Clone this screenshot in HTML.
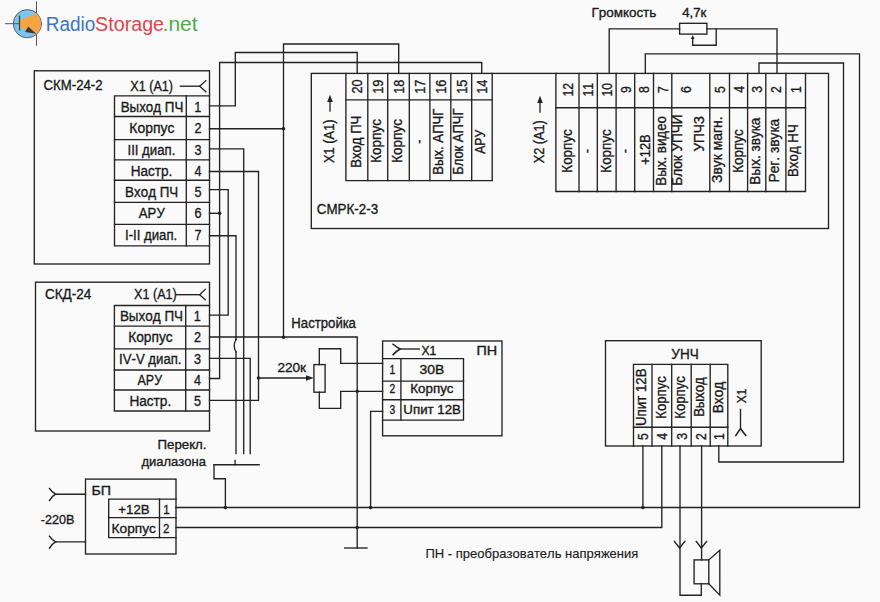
<!DOCTYPE html>
<html><head><meta charset="utf-8"><style>
html,body{margin:0;padding:0;background:#fafafa;}
svg{display:block;}
text{font-family:"Liberation Sans",sans-serif;fill:#1a1a1a;stroke:#1a1a1a;stroke-width:0.35px;font-kerning:none;}
</style></head><body>
<svg width="880" height="602" viewBox="0 0 880 602" stroke-linecap="square">
<rect x="0" y="0" width="880" height="602" fill="#fafafa"/>
<g>
<line x1="36.5" y1="1.8" x2="36.5" y2="13.3" stroke="#555" stroke-width="1"/>
<line x1="36.5" y1="34" x2="36.5" y2="45.3" stroke="#555" stroke-width="1"/>
<circle cx="27.4" cy="23.7" r="14.1" fill="#7cc5ee" stroke="#5e5e5e" stroke-width="1"/>
<path d="M19.5,20 L36.5,13.4 A14.1,14.1 0 0 1 36.5,34 L19.5,27.5 Z" fill="#f6a443"/>
<line x1="5.4" y1="23.7" x2="19.5" y2="23.7" stroke="#555" stroke-width="1"/>
<line x1="19.5" y1="16.2" x2="19.5" y2="29.9" stroke="#444" stroke-width="1.3"/>
<path d="M28.2,26.6 L36.2,33.8 L25,32 Z" fill="#3a3a3a"/>
</g>
<text x="45.74" y="30.50" font-size="19.50" textLength="49.55" lengthAdjust="spacingAndGlyphs" style="fill:#3d76c1;stroke:none">Radio</text>
<text x="95.11" y="30.50" font-size="19.50" textLength="68.97" lengthAdjust="spacingAndGlyphs" style="fill:#e1434f;stroke:none">Storage</text>
<text x="162.58" y="30.50" font-size="19.50" textLength="35.07" lengthAdjust="spacingAndGlyphs" style="fill:#4cab48;stroke:none">.net</text>
<rect x="34.30" y="70.80" width="175.20" height="193.20" fill="none" stroke="#222222" stroke-width="1.35"/>
<text x="43.43" y="90.10" font-size="14.60" textLength="59.24" lengthAdjust="spacingAndGlyphs">СКМ-24-2</text>
<text x="130.22" y="90.50" font-size="14.60" textLength="42.87" lengthAdjust="spacingAndGlyphs">X1 (A1)</text>
<path d="M180.40,86.20 L199.70,86.20" fill="none" stroke="#222222" stroke-width="1.35"/>
<path d="M205.90,80.60 L199.70,86.20 L205.90,91.80" fill="none" stroke="#222222" stroke-width="1.3"/>
<path d="M209.50,95.80 L114.50,95.80 L114.50,245.90 L209.50,245.90" fill="none" stroke="#222222" stroke-width="1.35"/>
<path d="M114.50,116.50 L209.50,116.50" fill="none" stroke="#222222" stroke-width="1.35"/>
<path d="M114.50,139.60 L209.50,139.60" fill="none" stroke="#222222" stroke-width="1.35"/>
<path d="M114.50,159.90 L209.50,159.90" fill="none" stroke="#222222" stroke-width="1.35"/>
<path d="M114.50,180.20 L209.50,180.20" fill="none" stroke="#222222" stroke-width="1.35"/>
<path d="M114.50,202.40 L209.50,202.40" fill="none" stroke="#222222" stroke-width="1.35"/>
<path d="M114.50,224.30 L209.50,224.30" fill="none" stroke="#222222" stroke-width="1.35"/>
<path d="M186.30,95.80 L186.30,245.90" fill="none" stroke="#222222" stroke-width="1.35"/>
<text x="120.71" y="111.70" font-size="14.88" textLength="62.58" lengthAdjust="spacingAndGlyphs">Выход ПЧ</text>
<text x="194.31" y="111.70" font-size="14.88" textLength="7.03" lengthAdjust="spacingAndGlyphs">1</text>
<text x="129.36" y="132.90" font-size="14.88" textLength="45.11" lengthAdjust="spacingAndGlyphs">Корпус</text>
<text x="194.48" y="132.90" font-size="14.88" textLength="7.03" lengthAdjust="spacingAndGlyphs">2</text>
<text x="127.48" y="154.90" font-size="14.88" textLength="47.82" lengthAdjust="spacingAndGlyphs">III диап.</text>
<text x="194.52" y="154.90" font-size="14.88" textLength="7.03" lengthAdjust="spacingAndGlyphs">3</text>
<text x="130.69" y="175.50" font-size="14.88" textLength="41.55" lengthAdjust="spacingAndGlyphs">Настр.</text>
<text x="194.52" y="175.50" font-size="14.88" textLength="7.03" lengthAdjust="spacingAndGlyphs">4</text>
<text x="125.10" y="196.60" font-size="14.88" textLength="53.19" lengthAdjust="spacingAndGlyphs">Вход ПЧ</text>
<text x="194.50" y="196.60" font-size="14.88" textLength="7.03" lengthAdjust="spacingAndGlyphs">5</text>
<text x="138.87" y="218.00" font-size="14.88" textLength="25.86" lengthAdjust="spacingAndGlyphs">АРУ</text>
<text x="194.44" y="218.00" font-size="14.88" textLength="7.03" lengthAdjust="spacingAndGlyphs">6</text>
<text x="124.98" y="239.60" font-size="14.88" textLength="52.22" lengthAdjust="spacingAndGlyphs">I-II диап.</text>
<text x="194.48" y="239.60" font-size="14.88" textLength="7.03" lengthAdjust="spacingAndGlyphs">7</text>
<rect x="35.50" y="282.20" width="174.00" height="148.80" fill="none" stroke="#222222" stroke-width="1.35"/>
<text x="44.91" y="299.00" font-size="14.60" textLength="46.49" lengthAdjust="spacingAndGlyphs">СКД-24</text>
<text x="134.02" y="298.70" font-size="14.60" textLength="42.77" lengthAdjust="spacingAndGlyphs">X1 (A1)</text>
<path d="M176.50,294.70 L199.70,294.70" fill="none" stroke="#222222" stroke-width="1.35"/>
<path d="M205.30,289.30 L199.70,294.70 L205.30,299.90" fill="none" stroke="#222222" stroke-width="1.3"/>
<path d="M209.50,305.50 L114.40,305.50 L114.40,411.00 L209.50,411.00" fill="none" stroke="#222222" stroke-width="1.35"/>
<path d="M114.40,326.10 L209.50,326.10" fill="none" stroke="#222222" stroke-width="1.35"/>
<path d="M114.40,348.80 L209.50,348.80" fill="none" stroke="#222222" stroke-width="1.35"/>
<path d="M114.40,370.00 L209.50,370.00" fill="none" stroke="#222222" stroke-width="1.35"/>
<path d="M114.40,390.00 L209.50,390.00" fill="none" stroke="#222222" stroke-width="1.35"/>
<path d="M185.70,305.50 L185.70,411.00" fill="none" stroke="#222222" stroke-width="1.35"/>
<text x="119.89" y="321.10" font-size="14.88" textLength="63.21" lengthAdjust="spacingAndGlyphs">Выход ПЧ</text>
<text x="193.81" y="321.10" font-size="14.88" textLength="7.03" lengthAdjust="spacingAndGlyphs">1</text>
<text x="128.17" y="342.30" font-size="14.88" textLength="44.49" lengthAdjust="spacingAndGlyphs">Корпус</text>
<text x="193.98" y="342.30" font-size="14.88" textLength="7.03" lengthAdjust="spacingAndGlyphs">2</text>
<text x="119.08" y="363.60" font-size="14.88" textLength="62.42" lengthAdjust="spacingAndGlyphs">IV-V диап.</text>
<text x="194.02" y="363.60" font-size="14.88" textLength="7.03" lengthAdjust="spacingAndGlyphs">3</text>
<text x="137.58" y="384.50" font-size="14.88" textLength="24.46" lengthAdjust="spacingAndGlyphs">АРУ</text>
<text x="194.02" y="384.50" font-size="14.88" textLength="7.03" lengthAdjust="spacingAndGlyphs">4</text>
<text x="129.38" y="405.80" font-size="14.88" textLength="41.86" lengthAdjust="spacingAndGlyphs">Настр.</text>
<text x="194.00" y="405.80" font-size="14.88" textLength="7.03" lengthAdjust="spacingAndGlyphs">5</text>
<text x="157.53" y="448.50" font-size="13.02" textLength="48.89" lengthAdjust="spacingAndGlyphs">Перекл.</text>
<text x="141.47" y="465.50" font-size="13.02" textLength="64.43" lengthAdjust="spacingAndGlyphs">диалазона</text>
<rect x="85.50" y="479.10" width="90.50" height="74.90" fill="none" stroke="#222222" stroke-width="1.35"/>
<text x="91.53" y="494.50" font-size="13.49" textLength="19.60" lengthAdjust="spacingAndGlyphs">БП</text>
<path d="M176.00,499.10 L108.70,499.10 L108.70,537.60 L176.00,537.60" fill="none" stroke="#222222" stroke-width="1.35"/>
<path d="M108.70,517.60 L176.00,517.60" fill="none" stroke="#222222" stroke-width="1.35"/>
<path d="M159.50,499.10 L159.50,537.60" fill="none" stroke="#222222" stroke-width="1.35"/>
<text x="118.35" y="513.60" font-size="13.49" textLength="31.35" lengthAdjust="spacingAndGlyphs">+12В</text>
<text x="163.16" y="513.60" font-size="13.49" textLength="6.37" lengthAdjust="spacingAndGlyphs">1</text>
<text x="111.58" y="532.70" font-size="13.49" textLength="44.28" lengthAdjust="spacingAndGlyphs">Корпус</text>
<text x="163.11" y="532.70" font-size="13.49" textLength="6.37" lengthAdjust="spacingAndGlyphs">2</text>
<text x="40.74" y="523.70" font-size="13.49" textLength="33.62" lengthAdjust="spacingAndGlyphs">-220В</text>
<path d="M55.60,494.20 L85.50,494.20" fill="none" stroke="#222222" stroke-width="1.35"/>
<path d="M49.6,488.60 Q52.2,492.40 55.6,494.20 Q52.2,496.00 49.6,500.40" fill="none" stroke="#222222" stroke-width="1.5"/>
<path d="M55.60,541.90 L85.50,541.90" fill="none" stroke="#222222" stroke-width="1.35"/>
<path d="M49.6,536.30 Q52.2,540.10 55.6,541.90 Q52.2,543.70 49.6,548.10" fill="none" stroke="#222222" stroke-width="1.5"/>
<path d="M209.50,105.80 L235.30,105.80 L235.30,52.50 L357.20,52.50 L357.20,73.40" fill="none" stroke="#222222" stroke-width="1.35"/>
<path d="M283.50,337.40 L283.50,44.00 L398.70,44.00 L398.70,73.40" fill="none" stroke="#222222" stroke-width="1.35"/>
<path d="M209.50,128.70 L283.50,128.70" fill="none" stroke="#222222" stroke-width="1.35"/>
<circle cx="283.50" cy="128.70" r="1.8" fill="#222222"/>
<path d="M209.50,337.00 L357.20,337.00 L357.20,548.00" fill="none" stroke="#222222" stroke-width="1.35"/>
<circle cx="283.50" cy="337.20" r="1.8" fill="#222222"/>
<path d="M344.70,548.00 L367.00,548.00" fill="none" stroke="#222222" stroke-width="1.35"/>
<path d="M209.50,378.50 L219.60,378.50 L219.60,62.50 L481.70,62.50 L481.70,73.40" fill="none" stroke="#222222" stroke-width="1.35"/>
<path d="M209.50,213.30 L219.60,213.30" fill="none" stroke="#222222" stroke-width="1.35"/>
<circle cx="219.60" cy="213.30" r="1.8" fill="#222222"/>
<path d="M209.50,148.80 L243.70,148.80 L243.70,453.60" fill="none" stroke="#222222" stroke-width="1.35"/>
<path d="M209.50,171.50 L258.50,171.50 L258.50,400.30 L209.50,400.30" fill="none" stroke="#222222" stroke-width="1.35"/>
<circle cx="258.50" cy="378.00" r="1.8" fill="#222222"/>
<path d="M258.50,378.00 L310.00,378.00" fill="none" stroke="#222222" stroke-width="1.35"/>
<path d="M306,375.3 L313.8,378 L306,380.7 Z" fill="#222222"/>
<path d="M209.50,189.60 L228.20,189.60 L228.20,315.10 L209.50,315.10" fill="none" stroke="#222222" stroke-width="1.35"/>
<path d="M209.50,235.70 L236.00,235.70 L236.00,339.50" fill="none" stroke="#222222" stroke-width="1.35"/>
<path d="M236.00,352.00 L236.00,453.60" fill="none" stroke="#222222" stroke-width="1.35"/>
<path d="M236,339.5 Q232.5,345.7 236,352" fill="none" stroke="#222222" stroke-width="1.3"/>
<path d="M209.50,358.30 L250.20,358.30 L250.20,453.60" fill="none" stroke="#222222" stroke-width="1.35"/>
<path d="M214.00,464.70 L259.10,464.70" fill="none" stroke="#222222" stroke-width="1.35"/>
<path d="M235.10,460.30 L235.10,464.70" fill="none" stroke="#222222" stroke-width="1.35"/>
<path d="M214.00,464.70 L214.00,478.70 L225.40,478.70 L225.40,507.50" fill="none" stroke="#222222" stroke-width="1.35"/>
<circle cx="225.40" cy="507.50" r="1.8" fill="#222222"/>
<path d="M176.00,507.50 L859.50,507.50 L859.50,53.80 L645.30,53.80 L645.30,73.40" fill="none" stroke="#222222" stroke-width="1.35"/>
<circle cx="370.60" cy="507.50" r="1.8" fill="#222222"/>
<circle cx="642.90" cy="507.50" r="1.8" fill="#222222"/>
<path d="M176.00,527.50 L661.80,527.50 L661.80,446.00" fill="none" stroke="#222222" stroke-width="1.35"/>
<circle cx="357.20" cy="527.50" r="1.8" fill="#222222"/>
<rect x="313.90" y="364.60" width="11.20" height="27.60" fill="none" stroke="#222222" stroke-width="1.35"/>
<path d="M319.30,364.60 L319.30,348.70 L340.70,348.70 L340.70,363.30 L382.60,363.30" fill="none" stroke="#222222" stroke-width="1.35"/>
<path d="M319.30,392.20 L319.30,408.30 L340.70,408.30 L340.70,391.30 L382.60,391.30" fill="none" stroke="#222222" stroke-width="1.35"/>
<circle cx="357.20" cy="391.30" r="1.8" fill="#222222"/>
<path d="M382.60,411.30 L370.60,411.30 L370.60,507.50" fill="none" stroke="#222222" stroke-width="1.35"/>
<text x="291.32" y="328.00" font-size="13.95" textLength="64.58" lengthAdjust="spacingAndGlyphs">Настройка</text>
<text x="277.42" y="371.60" font-size="13.49" textLength="28.62" lengthAdjust="spacingAndGlyphs">220к</text>
<rect x="382.60" y="341.00" width="119.40" height="94.80" fill="none" stroke="#222222" stroke-width="1.35"/>
<path d="M382.60,358.60 L463.50,358.60 L463.50,420.10 L382.60,420.10" fill="none" stroke="#222222" stroke-width="1.35"/>
<path d="M382.60,381.10 L463.50,381.10" fill="none" stroke="#222222" stroke-width="1.35"/>
<path d="M382.60,399.70 L463.50,399.70" fill="none" stroke="#222222" stroke-width="1.35"/>
<path d="M400.90,358.60 L400.90,420.10" fill="none" stroke="#222222" stroke-width="1.35"/>
<path d="M393.1,344.2 Q396.8,347.3 400,349 Q396.8,350.9 393.1,354.6" fill="none" stroke="#222222" stroke-width="1.5"/>
<path d="M400.00,349.00 L419.20,349.00" fill="none" stroke="#222222" stroke-width="1.35"/>
<text x="421.53" y="354.50" font-size="12.09" textLength="14.87" lengthAdjust="spacingAndGlyphs">X1</text>
<text x="476.44" y="354.50" font-size="12.09" textLength="20.63" lengthAdjust="spacingAndGlyphs">ПН</text>
<text x="389.50" y="374.20" font-size="12.09" textLength="5.72" lengthAdjust="spacingAndGlyphs">1</text>
<text x="419.57" y="374.20" font-size="12.09" textLength="24.76" lengthAdjust="spacingAndGlyphs">30В</text>
<text x="389.44" y="393.40" font-size="12.09" textLength="5.72" lengthAdjust="spacingAndGlyphs">2</text>
<text x="410.30" y="393.40" font-size="12.09" textLength="43.25" lengthAdjust="spacingAndGlyphs">Корпус</text>
<text x="389.47" y="413.50" font-size="12.09" textLength="5.72" lengthAdjust="spacingAndGlyphs">3</text>
<text x="403.38" y="413.50" font-size="12.09" textLength="57.52" lengthAdjust="spacingAndGlyphs">Uпит 12В</text>
<rect x="311.30" y="73.40" width="517.20" height="155.10" fill="none" stroke="#222222" stroke-width="1.35"/>
<text x="316.82" y="213.70" font-size="14.42" textLength="61.27" lengthAdjust="spacingAndGlyphs">СМРК-2-3</text>
<path d="M345.90,73.40 L345.90,180.60 L492.20,180.60 L492.20,73.40" fill="none" stroke="#222222" stroke-width="1.35"/>
<path d="M367.80,73.40 L367.80,180.60" fill="none" stroke="#222222" stroke-width="1.35"/>
<path d="M387.70,73.40 L387.70,180.60" fill="none" stroke="#222222" stroke-width="1.35"/>
<path d="M409.30,73.40 L409.30,180.60" fill="none" stroke="#222222" stroke-width="1.35"/>
<path d="M429.90,73.40 L429.90,180.60" fill="none" stroke="#222222" stroke-width="1.35"/>
<path d="M450.80,73.40 L450.80,180.60" fill="none" stroke="#222222" stroke-width="1.35"/>
<path d="M471.70,73.40 L471.70,180.60" fill="none" stroke="#222222" stroke-width="1.35"/>
<path d="M345.90,99.80 L492.20,99.80" fill="none" stroke="#222222" stroke-width="1.35"/>
<text transform="translate(362.35,93.61) rotate(-90)" x="0" y="0" font-size="14.88" textLength="14.07" lengthAdjust="spacingAndGlyphs">20</text>
<text transform="translate(383.25,93.72) rotate(-90)" x="0" y="0" font-size="14.88" textLength="14.07" lengthAdjust="spacingAndGlyphs">19</text>
<text transform="translate(404.00,93.74) rotate(-90)" x="0" y="0" font-size="14.88" textLength="14.07" lengthAdjust="spacingAndGlyphs">18</text>
<text transform="translate(425.10,93.70) rotate(-90)" x="0" y="0" font-size="14.88" textLength="14.07" lengthAdjust="spacingAndGlyphs">17</text>
<text transform="translate(445.85,93.74) rotate(-90)" x="0" y="0" font-size="14.88" textLength="14.07" lengthAdjust="spacingAndGlyphs">16</text>
<text transform="translate(466.75,93.75) rotate(-90)" x="0" y="0" font-size="14.88" textLength="14.07" lengthAdjust="spacingAndGlyphs">15</text>
<text transform="translate(487.45,93.83) rotate(-90)" x="0" y="0" font-size="14.88" textLength="14.07" lengthAdjust="spacingAndGlyphs">14</text>
<text transform="translate(360.90,167.67) rotate(-90)" x="0" y="0" font-size="13.90" textLength="51.94" lengthAdjust="spacingAndGlyphs">Вход ПЧ</text>
<text transform="translate(380.80,162.81) rotate(-90)" x="0" y="0" font-size="13.90" textLength="43.77" lengthAdjust="spacingAndGlyphs">Корпус</text>
<text transform="translate(402.00,162.81) rotate(-90)" x="0" y="0" font-size="13.90" textLength="43.77" lengthAdjust="spacingAndGlyphs">Корпус</text>
<text transform="translate(423.50,143.81) rotate(-90)" x="0" y="0" font-size="14.88" textLength="4.21" lengthAdjust="spacingAndGlyphs">-</text>
<text transform="translate(442.90,174.68) rotate(-90)" x="0" y="0" font-size="13.90" textLength="66.12" lengthAdjust="spacingAndGlyphs">Вых. АПЧГ</text>
<text transform="translate(463.40,174.66) rotate(-90)" x="0" y="0" font-size="13.90" textLength="66.10" lengthAdjust="spacingAndGlyphs">Блок АПЧГ</text>
<text transform="translate(484.70,153.72) rotate(-90)" x="0" y="0" font-size="13.90" textLength="23.86" lengthAdjust="spacingAndGlyphs">АРУ</text>
<text transform="translate(334.00,162.99) rotate(-90)" x="0" y="0" font-size="13.90" textLength="43.59" lengthAdjust="spacingAndGlyphs">X1 (A1)</text>
<path d="M330.00,111.00 L330.00,98.00" fill="none" stroke="#222222" stroke-width="1.3"/>
<path d="M327.2,102 L330,94.8 L332.8,102 Z" fill="#222222"/>
<path d="M555.90,73.40 L555.90,191.50 L805.50,191.50 L805.50,73.40" fill="none" stroke="#222222" stroke-width="1.35"/>
<path d="M579.00,73.40 L579.00,191.50" fill="none" stroke="#222222" stroke-width="1.35"/>
<path d="M597.30,73.40 L597.30,191.50" fill="none" stroke="#222222" stroke-width="1.35"/>
<path d="M616.10,73.40 L616.10,191.50" fill="none" stroke="#222222" stroke-width="1.35"/>
<path d="M634.70,73.40 L634.70,191.50" fill="none" stroke="#222222" stroke-width="1.35"/>
<path d="M653.50,73.40 L653.50,191.50" fill="none" stroke="#222222" stroke-width="1.35"/>
<path d="M671.80,73.40 L671.80,191.50" fill="none" stroke="#222222" stroke-width="1.35"/>
<path d="M709.80,73.40 L709.80,191.50" fill="none" stroke="#222222" stroke-width="1.35"/>
<path d="M729.50,73.40 L729.50,191.50" fill="none" stroke="#222222" stroke-width="1.35"/>
<path d="M747.60,73.40 L747.60,191.50" fill="none" stroke="#222222" stroke-width="1.35"/>
<path d="M765.80,73.40 L765.80,191.50" fill="none" stroke="#222222" stroke-width="1.35"/>
<path d="M785.90,73.40 L785.90,191.50" fill="none" stroke="#222222" stroke-width="1.35"/>
<path d="M555.90,107.70 L805.50,107.70" fill="none" stroke="#222222" stroke-width="1.35"/>
<text transform="translate(572.75,96.47) rotate(-90)" x="0" y="0" font-size="14.42" textLength="13.63" lengthAdjust="spacingAndGlyphs">12</text>
<text transform="translate(593.45,96.48) rotate(-90)" x="0" y="0" font-size="14.42" textLength="13.63" lengthAdjust="spacingAndGlyphs">11</text>
<text transform="translate(612.00,96.54) rotate(-90)" x="0" y="0" font-size="14.42" textLength="13.63" lengthAdjust="spacingAndGlyphs">10</text>
<text transform="translate(630.70,92.90) rotate(-90)" x="0" y="0" font-size="14.42" textLength="6.81" lengthAdjust="spacingAndGlyphs">9</text>
<text transform="translate(649.40,92.91) rotate(-90)" x="0" y="0" font-size="14.42" textLength="6.81" lengthAdjust="spacingAndGlyphs">8</text>
<text transform="translate(667.95,92.91) rotate(-90)" x="0" y="0" font-size="14.42" textLength="6.81" lengthAdjust="spacingAndGlyphs">7</text>
<text transform="translate(690.80,92.95) rotate(-90)" x="0" y="0" font-size="14.42" textLength="6.81" lengthAdjust="spacingAndGlyphs">6</text>
<text transform="translate(724.95,92.90) rotate(-90)" x="0" y="0" font-size="14.42" textLength="6.81" lengthAdjust="spacingAndGlyphs">5</text>
<text transform="translate(743.85,92.87) rotate(-90)" x="0" y="0" font-size="14.42" textLength="6.81" lengthAdjust="spacingAndGlyphs">4</text>
<text transform="translate(762.00,92.87) rotate(-90)" x="0" y="0" font-size="14.42" textLength="6.81" lengthAdjust="spacingAndGlyphs">3</text>
<text transform="translate(781.15,92.91) rotate(-90)" x="0" y="0" font-size="14.42" textLength="6.81" lengthAdjust="spacingAndGlyphs">2</text>
<text transform="translate(801.00,93.07) rotate(-90)" x="0" y="0" font-size="14.42" textLength="6.81" lengthAdjust="spacingAndGlyphs">1</text>
<text transform="translate(571.70,172.70) rotate(-90)" x="0" y="0" font-size="13.90" textLength="43.56" lengthAdjust="spacingAndGlyphs">Корпус</text>
<text transform="translate(592.00,153.14) rotate(-90)" x="0" y="0" font-size="14.42" textLength="4.08" lengthAdjust="spacingAndGlyphs">-</text>
<text transform="translate(610.90,172.70) rotate(-90)" x="0" y="0" font-size="13.90" textLength="43.56" lengthAdjust="spacingAndGlyphs">Корпус</text>
<text transform="translate(629.50,153.14) rotate(-90)" x="0" y="0" font-size="14.42" textLength="4.08" lengthAdjust="spacingAndGlyphs">-</text>
<text transform="translate(649.70,164.73) rotate(-90)" x="0" y="0" font-size="13.90" textLength="30.41" lengthAdjust="spacingAndGlyphs">+12В</text>
<text transform="translate(665.90,185.69) rotate(-90)" x="0" y="0" font-size="13.90" textLength="69.65" lengthAdjust="spacingAndGlyphs">Вых. видео</text>
<text transform="translate(682.10,185.71) rotate(-90)" x="0" y="0" font-size="13.90" textLength="71.33" lengthAdjust="spacingAndGlyphs">Блок УПЧИ</text>
<text transform="translate(703.70,151.56) rotate(-90)" x="0" y="0" font-size="13.90" textLength="35.63" lengthAdjust="spacingAndGlyphs">УПЧЗ</text>
<text transform="translate(722.00,182.95) rotate(-90)" x="0" y="0" font-size="13.90" textLength="66.52" lengthAdjust="spacingAndGlyphs">Звук магн.</text>
<text transform="translate(743.00,172.80) rotate(-90)" x="0" y="0" font-size="13.90" textLength="43.56" lengthAdjust="spacingAndGlyphs">Корпус</text>
<text transform="translate(760.20,184.72) rotate(-90)" x="0" y="0" font-size="13.90" textLength="67.02" lengthAdjust="spacingAndGlyphs">Вых. звука</text>
<text transform="translate(778.60,182.53) rotate(-90)" x="0" y="0" font-size="13.90" textLength="63.73" lengthAdjust="spacingAndGlyphs">Рег. звука</text>
<text transform="translate(798.00,177.09) rotate(-90)" x="0" y="0" font-size="13.90" textLength="52.98" lengthAdjust="spacingAndGlyphs">Вход НЧ</text>
<text transform="translate(543.60,163.29) rotate(-90)" x="0" y="0" font-size="13.90" textLength="43.07" lengthAdjust="spacingAndGlyphs">X2 (A1)</text>
<path d="M540.00,112.00 L540.00,99.00" fill="none" stroke="#222222" stroke-width="1.3"/>
<path d="M537.2,103 L540,95.8 L542.8,103 Z" fill="#222222"/>
<text x="591.60" y="17.00" font-size="13.49" textLength="64.65" lengthAdjust="spacingAndGlyphs">Громкость</text>
<text x="682.20" y="16.70" font-size="12.56" textLength="24.14" lengthAdjust="spacingAndGlyphs">4,7к</text>
<path d="M609.20,73.40 L609.20,28.80 L679.60,28.80" fill="none" stroke="#222222" stroke-width="1.35"/>
<rect x="679.60" y="23.30" width="27.30" height="10.80" fill="none" stroke="#222222" stroke-width="1.35"/>
<path d="M706.90,28.80 L777.00,28.80 L777.00,73.40" fill="none" stroke="#222222" stroke-width="1.35"/>
<path d="M716.20,28.80 L716.20,45.20 L692.70,45.20 L692.70,37.50" fill="none" stroke="#222222" stroke-width="1.35"/>
<path d="M690.9,39 L692.7,35.2 L694.5,39 Z" fill="#222222"/>
<path d="M759.00,73.40 L759.00,63.00 L843.50,63.00 L843.50,462.00 L718.80,462.00 L718.80,446.00" fill="none" stroke="#222222" stroke-width="1.35"/>
<rect x="605.50" y="340.70" width="155.70" height="105.30" fill="none" stroke="#222222" stroke-width="1.35"/>
<text x="671.34" y="359.20" font-size="14.42" textLength="27.37" lengthAdjust="spacingAndGlyphs">УНЧ</text>
<path d="M633.50,446.00 L633.50,364.40 L727.80,364.40 L727.80,446.00" fill="none" stroke="#222222" stroke-width="1.35"/>
<path d="M652.00,364.40 L652.00,446.00" fill="none" stroke="#222222" stroke-width="1.35"/>
<path d="M671.70,364.40 L671.70,446.00" fill="none" stroke="#222222" stroke-width="1.35"/>
<path d="M691.20,364.40 L691.20,446.00" fill="none" stroke="#222222" stroke-width="1.35"/>
<path d="M710.20,364.40 L710.20,446.00" fill="none" stroke="#222222" stroke-width="1.35"/>
<path d="M633.50,427.20 L727.80,427.20" fill="none" stroke="#222222" stroke-width="1.35"/>
<text transform="translate(648.05,439.90) rotate(-90)" x="0" y="0" font-size="14.42" textLength="6.81" lengthAdjust="spacingAndGlyphs">5</text>
<text transform="translate(667.15,439.87) rotate(-90)" x="0" y="0" font-size="14.42" textLength="6.81" lengthAdjust="spacingAndGlyphs">4</text>
<text transform="translate(686.75,439.87) rotate(-90)" x="0" y="0" font-size="14.42" textLength="6.81" lengthAdjust="spacingAndGlyphs">3</text>
<text transform="translate(706.00,439.91) rotate(-90)" x="0" y="0" font-size="14.42" textLength="6.81" lengthAdjust="spacingAndGlyphs">2</text>
<text transform="translate(724.30,440.07) rotate(-90)" x="0" y="0" font-size="14.42" textLength="6.81" lengthAdjust="spacingAndGlyphs">1</text>
<text transform="translate(645.50,426.02) rotate(-90)" x="0" y="0" font-size="13.90" textLength="57.52" lengthAdjust="spacingAndGlyphs">Uпит 12В</text>
<text transform="translate(665.60,418.68) rotate(-90)" x="0" y="0" font-size="13.90" textLength="42.52" lengthAdjust="spacingAndGlyphs">Корпус</text>
<text transform="translate(684.80,418.68) rotate(-90)" x="0" y="0" font-size="13.90" textLength="42.52" lengthAdjust="spacingAndGlyphs">Корпус</text>
<text transform="translate(704.00,416.87) rotate(-90)" x="0" y="0" font-size="13.90" textLength="39.60" lengthAdjust="spacingAndGlyphs">Выход</text>
<text transform="translate(723.10,413.32) rotate(-90)" x="0" y="0" font-size="13.90" textLength="31.56" lengthAdjust="spacingAndGlyphs">Вход</text>
<text transform="translate(746.00,403.27) rotate(-90)" x="0" y="0" font-size="13.49" textLength="14.55" lengthAdjust="spacingAndGlyphs">X1</text>
<path d="M740.50,409.40 L740.50,428.50" fill="none" stroke="#222222" stroke-width="1.35"/>
<path d="M735.8,435.5 Q738.5,431.5 740.5,428.5 Q742.5,431.5 745.8,435.5" fill="none" stroke="#222222" stroke-width="1.5"/>
<path d="M642.90,446.00 L642.90,507.50" fill="none" stroke="#222222" stroke-width="1.35"/>
<path d="M680.00,446.00 L680.00,595.20 L701.30,595.20 L701.30,583.80" fill="none" stroke="#222222" stroke-width="1.35"/>
<path d="M701.60,446.00 L701.60,559.90" fill="none" stroke="#222222" stroke-width="1.35"/>
<path d="M674.40,541.40 L679.60,548.00 L684.80,541.40" fill="none" stroke="#222222" stroke-width="1.4"/>
<path d="M696.20,541.40 L701.40,548.00 L706.60,541.40" fill="none" stroke="#222222" stroke-width="1.4"/>
<rect x="694.10" y="559.90" width="14.70" height="23.90" fill="none" stroke="#222222" stroke-width="1.35"/>
<path d="M708.80,559.90 L719.80,550.30 L719.80,595.20 L708.80,583.80" fill="none" stroke="#222222" stroke-width="1.35"/>
<text x="425.44" y="558.00" font-size="13.58" textLength="212.96" lengthAdjust="spacingAndGlyphs" style="stroke-width:0.15px">ПН - преобразователь напряжения</text>
</svg></body></html>
